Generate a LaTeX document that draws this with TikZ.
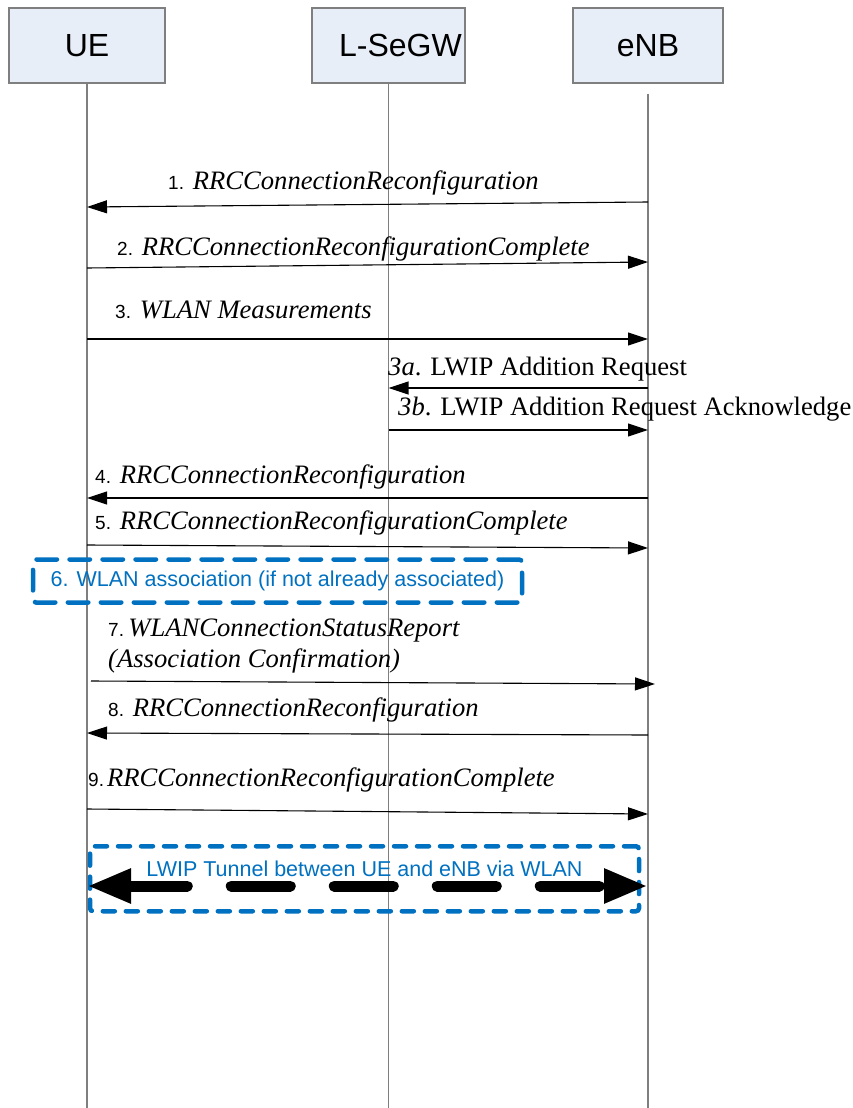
\documentclass[tikz,border=0pt]{standalone}
\usepackage{fontspec}
\setmainfont{Liberation Serif}
\setsansfont{Liberation Sans}
\usetikzlibrary{arrows.meta}

\definecolor{entityfill}{HTML}{E8EEF8}
\definecolor{entityline}{HTML}{7F7F7F}
\definecolor{lwipblue}{HTML}{0070C0}

\newcommand{\stepno}[1]{{\sffamily\upshape\fontsize{19}{22}\selectfont #1}}

\tikzset{
  entity/.style={draw=entityline, fill=entityfill, line width=1.2pt,
                 minimum width=153pt, minimum height=75pt,
                 font=\sffamily\fontsize{32}{36}\selectfont},
  lifeline/.style={draw=entityline, line width=1.4pt},
  msg/.style={draw=black, line width=1.1pt, -{Triangle[length=20pt,width=13pt]}},
  msglabel/.style={anchor=west, inner sep=0pt, font=\fontsize{26.6}{31}\selectfont},
  bluebox/.style={draw=lwipblue, line width=4.5pt, rounded corners=3pt,
                  line cap=round, text=lwipblue,
                  font=\sffamily\fontsize{21.5}{25}\selectfont}
}

\begin{document}
\begin{tikzpicture}[x=1pt, y=-1pt]
  \useasboundingbox (0,0) rectangle (852,1108);

  \node (ue)   [entity, minimum width=156pt] at (87,45.5)  {UE};
  \node (segw) [entity, inner xsep=0pt] at (388.5,45.5) {\hspace*{24pt}L-SeGW};
  \node (enb)  [entity, minimum width=150pt] at (648,45.5) {eNB};

  \draw[lifeline] (ue.south)   -- (ue |- 0,1108);
  \draw[lifeline] (segw.south) -- (segw |- 0,1108);
  \draw[lifeline] ([yshift=-10pt]enb.south) -- (enb |- 0,1108);

  % step 1 - 3
  \node (m1) [msglabel] at (168,183) {\stepno{1.} \textit{RRCConnectionReconfiguration}};
  \draw[msg] (enb |- 0,202) -- (ue |- 0,207);
  \node (m2) [msglabel] at (117,249) {\stepno{2.} \textit{RRCConnectionReconfigurationComplete}};
  \draw[msg] (ue |- 0,268) -- (enb |- 0,262);
  \node (m3) [msglabel] at (115,310) {\stepno{3.} \textit{WLAN Measurements}};
  \draw[msg] (ue |- 0,339) -- (enb |- 0,339);

  % LWIP addition between eNB and L-SeGW
  \node (m3a) [msglabel] at (388,369) {\textit{3a}. LWIP Addition Request};
  \draw[msg] (enb |- 0,388) -- (segw |- 0,388);
  \node (m3b) [msglabel] at (398,409) {\textit{3b}. LWIP Addition Request Acknowledge};
  \draw[msg] (segw |- 0,430) -- (enb |- 0,430);

  % step 4 - 6
  \node (m4) [msglabel] at (95,477) {\stepno{4.} \textit{RRCConnectionReconfiguration}};
  \draw[msg] (enb |- 0,498) -- (ue |- 0,498);
  \node (m5) [msglabel] at (95,523) {\stepno{5.} \textit{RRCConnectionReconfigurationComplete}};
  \draw[msg] (ue |- 0,545) -- (enb |- 0,548);
  \node (assoc) [bluebox, dash pattern=on 20.5pt off 12.5pt,
                 minimum width=489pt, minimum height=43pt] at (277.5,581)
                {6. WLAN association (if not already associated)};

  % step 7 - 9
  \node (m7) [msglabel, align=left] at (108,646)
             {\stepno{7.}\,\textit{WLANConnectionStatusReport}\\\textit{(Association Confirmation)}};
  \draw[msg] ([xshift=4pt]ue |- 0,681) -- ([xshift=7pt]enb |- 0,684);
  \node (m8) [msglabel] at (108,710) {\stepno{8.} \textit{RRCConnectionReconfiguration}};
  \draw[msg] (enb |- 0,735) -- (ue |- 0,733);
  \node (m9) [msglabel] at (88,780) {\stepno{9.}\hspace{3pt}\textit{RRCConnectionReconfigurationComplete}};
  \draw[msg] (ue |- 0,809) -- (enb |- 0,814);

  % tunnel
  \node (tunnel) [bluebox, dash pattern=on 12pt off 11pt, anchor=north,
                  minimum width=549pt, inner ysep=8pt,
                  text height=22pt, text depth=27pt] at (364.5,844)
                 {LWIP Tunnel between UE and eNB via WLAN};
  \draw[line width=11pt, line cap=round, dash pattern=on 59pt off 44pt,
        {Triangle[length=44pt,width=32pt]}-{Triangle[length=44pt,width=32pt]}]
       (ue |- 0,886) -- (enb |- 0,886);
\end{tikzpicture}
\end{document}
